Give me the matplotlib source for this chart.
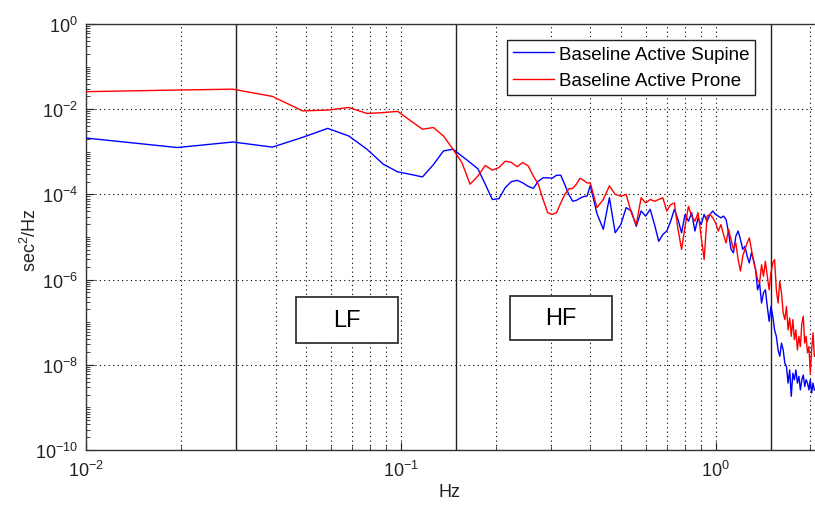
import numpy as np
import matplotlib
matplotlib.use("Agg")
import matplotlib.pyplot as plt
from matplotlib.patches import Rectangle
from matplotlib.ticker import LogLocator, NullFormatter

plt.rcParams['font.family'] = ['Liberation Sans', 'DejaVu Sans']
plt.rcParams['mathtext.default'] = 'regular'

# ---- data (frequencies in Hz, PSD as log10 exponent of sec^2/Hz) ----
freq_low = [0.0098, 0.0195, 0.0293, 0.0391, 0.0488, 0.0586, 0.0684, 0.0781, 0.0879, 0.0977,
            0.1074, 0.1172, 0.1270, 0.1367, 0.1465, 0.1563, 0.1660, 0.1758, 0.1855, 0.1953,
            0.2051, 0.2148, 0.2246, 0.2344, 0.2441, 0.2539, 0.2637, 0.2734, 0.2832, 0.2930,
            0.3027, 0.3125, 0.3223, 0.3320, 0.3418, 0.3516, 0.3613, 0.3711, 0.3809, 0.3906]
freq_high = [0.40, 0.42, 0.44, 0.46, 0.48, 0.50, 0.52, 0.54, 0.56, 0.58,
             0.60, 0.62, 0.64, 0.66, 0.68, 0.70, 0.72, 0.74, 0.76, 0.78,
             0.80, 0.82, 0.84, 0.86, 0.88, 0.90, 0.92, 0.94, 0.96, 0.98,
             1.00, 1.02, 1.04, 1.06, 1.08, 1.10, 1.12, 1.14, 1.16, 1.18,
             1.20, 1.22, 1.24, 1.26, 1.28, 1.30, 1.32, 1.34, 1.36, 1.38,
             1.40, 1.42, 1.44, 1.46, 1.48, 1.50, 1.52, 1.54, 1.56, 1.58,
             1.60, 1.62, 1.64, 1.66, 1.68, 1.70, 1.72, 1.74, 1.76, 1.78,
             1.80, 1.82, 1.84, 1.86, 1.88, 1.90, 1.92, 1.94, 1.96, 1.98,
             2.00, 2.02, 2.04, 2.06]

supine_low = [-2.67, -2.90, -2.77, -2.89, -2.66, -2.45, -2.63, -2.94, -3.29, -3.47,
              -3.53, -3.59, -3.30, -2.98, -2.94, -3.10, -3.25, -3.40, -3.76, -4.12,
              -4.10, -3.84, -3.70, -3.67, -3.73, -3.81, -3.86, -3.69, -3.61, -3.61,
              -3.62, -3.55, -3.55, -3.77, -4.00, -4.16, -4.14, -4.09, -4.05, -4.04]
supine_high = [-3.79, -4.45, -4.82, -4.08, -4.90, -4.71, -4.31, -4.39, -4.75, -4.39,
               -4.51, -4.35, -4.71, -5.10, -4.94, -4.86, -4.63, -4.35, -4.59, -4.90,
               -4.47, -4.63, -4.43, -4.86, -4.55, -4.71, -4.47, -4.63, -4.47, -4.39,
               -4.47, -4.51, -4.55, -4.51, -4.59, -4.90, -5.29, -5.37, -4.98, -4.86,
               -5.06, -5.29, -5.22, -5.45, -5.61, -5.37, -5.53, -5.76, -6.24, -6.08,
               -6.55, -6.31, -6.24, -6.63, -6.98, -6.63, -6.86, -7.18, -7.33, -7.65,
               -7.80, -7.49, -7.65, -7.96, -8.04, -8.43, -8.12, -8.74, -8.20, -8.35,
               -8.12, -8.43, -8.27, -8.59, -8.35, -8.24, -8.51, -8.35, -8.43, -8.59,
               -8.35, -8.66, -8.43, -8.59]

prone_low = [-1.59, -1.55, -1.53, -1.70, -2.04, -2.02, -1.96, -2.10, -2.08, -2.05,
             -2.27, -2.47, -2.43, -2.63, -2.94, -3.25, -3.76, -3.57, -3.32, -3.43,
             -3.37, -3.22, -3.25, -3.35, -3.25, -3.33, -3.57, -3.76, -4.12, -4.43,
             -4.47, -4.43, -4.20, -4.00, -3.87, -3.86, -3.76, -3.62, -3.67, -3.73]
prone_high = [-3.73, -4.31, -4.12, -3.80, -4.00, -4.04, -4.00, -4.43, -4.71, -4.08,
              -4.20, -4.12, -4.16, -4.12, -4.08, -4.39, -4.24, -4.20, -4.82, -5.29,
              -4.75, -4.28, -4.51, -4.63, -4.43, -4.98, -5.53, -4.51, -4.47, -4.55,
              -4.67, -4.86, -4.71, -4.94, -5.14, -4.82, -5.06, -5.29, -5.14, -5.53,
              -5.80, -5.45, -5.29, -5.14, -5.02, -5.29, -5.57, -5.76, -6.00, -6.08,
              -5.65, -5.92, -5.57, -5.92, -6.24, -5.84, -5.61, -5.53, -6.24, -6.55,
              -6.04, -6.31, -6.78, -6.94, -6.63, -7.18, -6.90, -7.33, -6.94, -7.41,
              -7.18, -7.65, -7.33, -7.57, -7.02, -6.86, -7.49, -7.33, -7.72, -7.57,
              -8.20, -7.65, -7.25, -7.80]

band_edges = [0.03, 0.15, 1.5]
band_labels = ['LF', 'HF']
series_labels = ['Baseline Active Supine', 'Baseline Active Prone']
x_label = 'Hz'
y_label = 'sec$^2$/Hz'

freq = np.array(freq_low + freq_high)
supine = np.power(10.0, np.array(supine_low + supine_high))
prone = np.power(10.0, np.array(prone_low + prone_high))

# ---- figure ----
fig = plt.figure(figsize=(8.15, 5.06), dpi=100)
ax = fig.add_axes([86 / 815, 55 / 506, 729 / 815, 426 / 506])

ax.plot(freq, supine, color=(0, 0, 1), lw=1.0, label=series_labels[0], zorder=3)
ax.plot(freq, prone, color=(1, 0, 0), lw=1.0, label=series_labels[1], zorder=3)

for xe in band_edges:
    ax.axvline(xe, color='#222222', lw=1.0, zorder=2)

ax.set_xscale('log')
ax.set_yscale('log')
ax.set_xlim(0.01, 2.07)
ax.set_ylim(1e-10, 1)

ax.xaxis.set_major_locator(LogLocator(base=10, numticks=10))
ax.xaxis.set_minor_locator(LogLocator(base=10, subs=np.arange(2, 10), numticks=20))
ax.xaxis.set_minor_formatter(NullFormatter())
ax.set_yticks([1e-10, 1e-8, 1e-6, 1e-4, 1e-2, 1e0])
ax.yaxis.set_minor_locator(LogLocator(base=10, subs=np.arange(1, 10), numticks=40))
ax.yaxis.set_minor_formatter(NullFormatter())

ax.grid(True, which='major', axis='both', linestyle=(0, (1, 3)), color='black', lw=0.8)
ax.grid(True, which='minor', axis='x', linestyle=(0, (1, 3)), color='black', lw=0.8)
ax.grid(False, which='minor', axis='y')
ax.tick_params(which='both', direction='in', top=False, right=False, labelsize=13,
               colors='#222222')
ax.tick_params(axis='x', which='major', length=6, pad=7)
ax.tick_params(axis='y', which='major', length=6, pad=6)
ax.tick_params(which='minor', length=3, width=0.6)
for side in ['left', 'bottom', 'top']:
    ax.spines[side].set_color('#333333')
    ax.spines[side].set_linewidth(1.0)
ax.spines['right'].set_visible(False)

ax.set_xlabel(x_label, fontsize=13, color='#222222')
ax.set_ylabel(y_label, fontsize=13, color='#222222')
ax.xaxis.set_label_coords((450 - 86) / 729, -(493 - 451) / 426)
ax.yaxis.set_label_coords((30 - 86) / 729, (451 - 240) / 426)
ax.xaxis.label.set_va('center')
ax.yaxis.label.set_va('center')

leg = ax.legend(loc='upper left', bbox_to_anchor=((507 - 86) / 729, (451 - 41) / 426),
                fontsize=13.5, frameon=True, fancybox=False, framealpha=1,
                edgecolor='#222222', handlelength=2.2, handletextpad=0.25,
                borderpad=0.3, labelspacing=0.5, borderaxespad=0)
leg.get_frame().set_linewidth(1.0)

# LF / HF annotation boxes (axes fraction)
boxes = [(0.288, 0.252, 0.140, 0.108), (0.582, 0.259, 0.1395, 0.103)]
for (bx, by, bw, bh), lab in zip(boxes, band_labels):
    ax.add_patch(Rectangle((bx, by), bw, bh, transform=ax.transAxes, facecolor='white',
                           edgecolor='#333333', lw=1.3, zorder=5))
    ax.text(bx + bw / 2, by + bh / 2, lab, transform=ax.transAxes, ha='center', va='center',
            fontsize=17, zorder=6)

fig.savefig('out.png', dpi=100)
